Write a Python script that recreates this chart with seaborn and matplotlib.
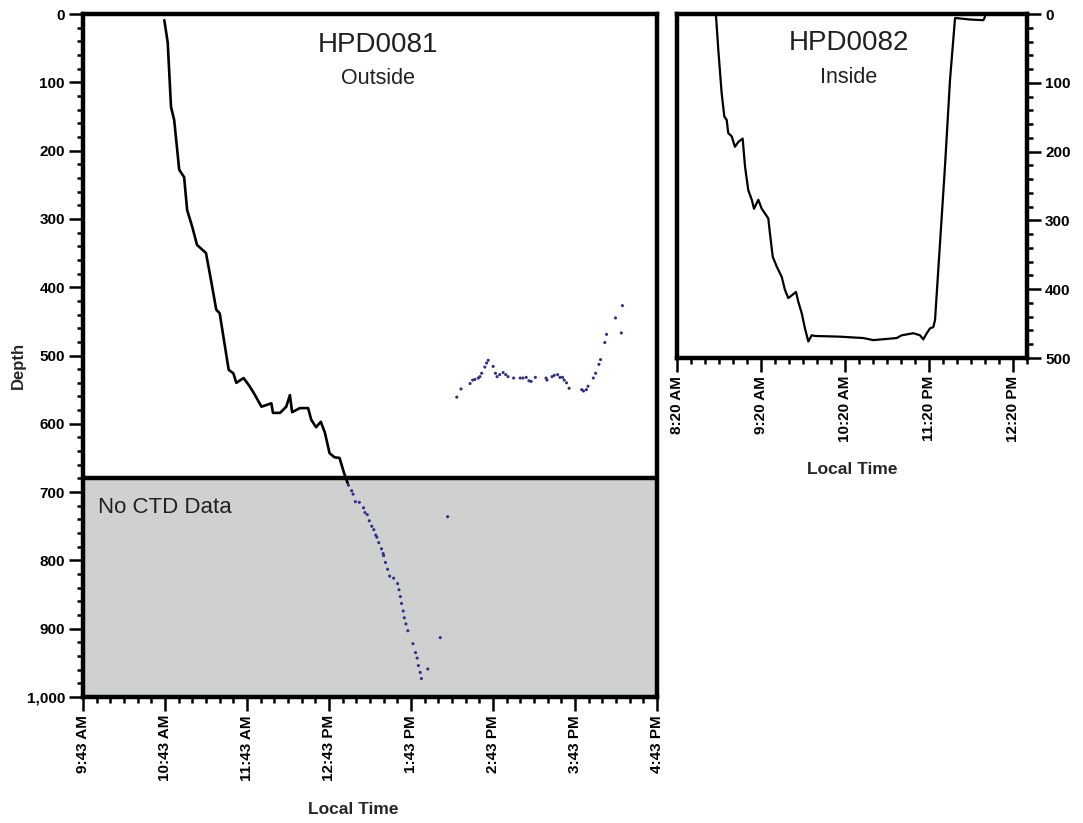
import numpy as np
import pandas as pd
import matplotlib
matplotlib.use("Agg")
import matplotlib.pyplot as plt
import matplotlib.dates as mdates
import matplotlib.ticker as mticker
import seaborn as sns

# ---------------- data ----------------
# HPD0081 (Outside) vehicle depth trace
dive81_time = ["10:42:30", "10:45:00", "10:47:24", "10:49:42", "10:53:24", "10:57:00", "10:59:12",
               "11:03:00", "11:06:24", "11:13:00", "11:16:36", "11:19:00", "11:20:30", "11:23:00",
               "11:29:36", "11:33:00", "11:35:12", "11:40:30", "11:44:12", "11:48:00", "11:53:36",
               "12:00:48", "12:02:00", "12:07:12", "12:11:42", "12:14:24", "12:16:00", "12:21:42",
               "12:27:42", "12:30:00", "12:33:30", "12:37:00", "12:40:00", "12:43:24", "12:47:00",
               "12:50:42", "12:54:00", "12:56:42"]
dive81_depth = [9, 42, 136, 155, 228, 239, 287,
                312, 338, 350, 389, 416, 433, 438,
                521, 526, 540, 533, 543, 555, 575,
                570, 584, 584, 575, 558, 583, 577,
                577, 594, 605, 597, 613, 643, 649,
                650, 672, 687]

# HPD0081 CTD samples (blue dots)
ctd81_time = ["12:57:12", "12:59:36", "13:00:36", "13:02:18", "13:05:12", "13:08:18", "13:09:18",
              "13:11:00", "13:12:30", "13:14:18", "13:15:48", "13:17:12", "13:18:00", "13:19:24",
              "13:21:24", "13:22:36", "13:23:00", "13:24:18", "13:25:54", "13:27:24", "13:30:18",
              "13:33:12", "13:34:12", "13:35:12", "13:36:06", "13:37:18", "13:38:06", "13:39:18",
              "13:40:42", "13:44:24", "13:46:18", "13:47:30", "13:48:24", "13:49:42", "13:50:36",
              "13:55:18", "14:04:24", "14:09:48",
              "14:16:30", "14:19:36", "14:26:12", "14:28:06", "14:29:48", "14:32:18", "14:33:24",
              "14:34:42", "14:37:00", "14:38:18", "14:39:30", "14:43:06", "14:44:48", "14:46:00",
              "14:47:54", "14:50:24", "14:52:18", "14:54:00", "14:58:06", "15:02:54", "15:04:54",
              "15:07:18", "15:09:18", "15:10:54", "15:14:00", "15:21:48", "15:22:30", "15:26:12",
              "15:27:48", "15:30:18", "15:32:00", "15:33:54", "15:35:06", "15:36:48", "15:38:42",
              "15:47:54", "15:49:12", "15:51:18", "15:52:30", "15:56:24", "15:58:06", "16:00:30",
              "16:01:42", "16:04:48", "16:06:06", "16:12:36", "16:16:54", "16:17:42"]
ctd81_depth = [690, 698, 703, 714, 715, 723, 730,
               733, 742, 750, 755, 763, 766, 774,
               783, 790, 793, 803, 813, 823, 826,
               834, 843, 853, 863, 874, 884, 893,
               903, 922, 935, 943, 954, 964, 973,
               959, 913, 736,
               561, 549, 541, 536, 535, 533, 531,
               526, 517, 511, 507, 516, 526, 531,
               528, 525, 528, 531, 533, 533, 533,
               532, 537, 538, 532, 533, 536, 531,
               529, 528, 532, 532, 536, 540, 548,
               550, 552, 550, 545, 533, 526, 513,
               506, 481, 469, 445, 467, 427]

# HPD0082 (Inside) vehicle depth trace
dive82_time = ["08:47:30", "08:47:54", "08:49:30", "08:51:54", "08:53:48", "08:55:30", "08:56:36",
               "08:59:06", "09:01:24", "09:03:48", "09:06:54", "09:08:36", "09:10:54", "09:13:24",
               "09:15:00", "09:18:06", "09:20:30", "09:25:12", "09:26:24", "09:28:24", "09:31:12",
               "09:34:48", "09:37:06", "09:39:30", "09:45:00", "09:46:36", "09:49:06", "09:51:24",
               "09:53:48", "09:56:12", "09:58:36", "10:16:24", "10:33:06", "10:40:12", "10:56:54",
               "11:00:30", "11:08:48", "11:13:36", "11:15:54", "11:18:24", "11:20:42", "11:23:06",
               "11:24:18", "11:31:24", "11:35:00", "11:38:36", "11:39:48", "11:49:18", "11:58:48",
               "12:00:00"]
dive82_depth = [0, 4, 52, 115, 149, 154, 173,
                178, 193, 186, 181, 222, 256, 270,
                283, 270, 283, 297, 319, 353, 367,
                382, 401, 413, 404, 418, 435, 457,
                476, 467, 468, 469, 471, 474, 471,
                467, 464, 467, 473, 464, 457, 455,
                445, 222, 96, 6, 6, 8, 9,
                4]

left_tick_times = ["09:43", "10:43", "11:43", "12:43", "13:43", "14:43", "15:43", "16:43"]
left_tick_labels = ["9:43 AM", "10:43 AM", "11:43 AM", "12:43 PM", "1:43 PM", "2:43 PM", "3:43 PM", "4:43 PM"]
right_tick_times = ["08:20", "09:20", "10:20", "11:20", "12:20"]
right_tick_labels = ["8:20 AM", "9:20 AM", "10:20 AM", "11:20 PM", "12:20 PM"]
left_depth_ticks = [0, 100, 200, 300, 400, 500, 600, 700, 800, 900, 1000]
right_depth_ticks = [0, 100, 200, 300, 400, 500]
no_ctd_depth = 680

# ---------------- helpers ----------------
BASE = "2000-01-01 "


def to_dt(ts):
    return pd.to_datetime([BASE + t for t in ts])


df81 = pd.DataFrame({"time": to_dt(dive81_time), "depth": dive81_depth})
ctd81 = pd.DataFrame({"time": to_dt(ctd81_time), "depth": ctd81_depth})
df82 = pd.DataFrame({"time": to_dt(dive82_time), "depth": dive82_depth})

sns.set_style("ticks")
plt.rcParams['font.family'] = ['Liberation Sans', 'DejaVu Sans']

W, H = 1083, 823
fig = plt.figure(figsize=(W / 100, H / 100), dpi=100)


def px_axes(l, t, r, b):
    return fig.add_axes([l / W, 1 - b / H, (r - l) / W, (b - t) / H])


ax1 = px_axes(83, 14, 657, 697)
ax2 = px_axes(677, 14, 1027, 358)

GRAY = "#cfd1d1"
NAVY = "#2e2e8e"
TXT = "#231f20"

# ---- left panel ----
ax1.axhspan(no_ctd_depth, 1000, color=GRAY, zorder=0, lw=0)
ax1.axhline(no_ctd_depth, color="black", lw=3.2, zorder=1)
sns.lineplot(data=df81, x="time", y="depth", sort=False, estimator=None,
             color="black", lw=1.9, ax=ax1, zorder=3)
sns.scatterplot(data=ctd81, x="time", y="depth", color=NAVY, s=5,
                edgecolor="none", ax=ax1, zorder=4)
ax1.set_xlim(mdates.date2num(pd.Timestamp(BASE + "09:43")),
             mdates.date2num(pd.Timestamp(BASE + "16:43")))
ax1.set_ylim(1000, 0)

ax1.set_xticks(mdates.date2num(to_dt(left_tick_times)))
ax1.set_xticklabels(left_tick_labels, rotation=90, fontweight="bold")
ax1.xaxis.set_minor_locator(mdates.MinuteLocator(byminute=[3, 13, 23, 33, 43, 53]))
ax1.set_yticks(left_depth_ticks)
ax1.set_yticklabels([f"{v:,}" for v in left_depth_ticks], fontweight="bold")
ax1.yaxis.set_minor_locator(mticker.MultipleLocator(20))

ax1.text(0.514, 0.955, "HPD0081", transform=ax1.transAxes, ha="center", va="center",
         fontsize=20, color=TXT)
ax1.text(0.514, 0.905, "Outside", transform=ax1.transAxes, ha="center", va="center",
         fontsize=15.5, color=TXT)
ax1.text(0.026, 0.277, "No CTD Data", transform=ax1.transAxes, ha="left", va="center",
         fontsize=16, color=TXT)

# ---- right panel ----
sns.lineplot(data=df82, x="time", y="depth", sort=False, estimator=None,
             color="black", lw=1.6, ax=ax2, zorder=3)
ax2.set_xlim(mdates.date2num(pd.Timestamp(BASE + "08:20")),
             mdates.date2num(pd.Timestamp(BASE + "12:30")))
ax2.set_ylim(500, 0)
ax2.yaxis.tick_right()
ax2.set_xticks(mdates.date2num(to_dt(right_tick_times)))
ax2.set_xticklabels(right_tick_labels, rotation=90, fontweight="bold")
ax2.xaxis.set_minor_locator(mdates.MinuteLocator(byminute=[0, 10, 20, 30, 40, 50]))
ax2.set_yticks(right_depth_ticks)
ax2.set_yticklabels([f"{v:,}" for v in right_depth_ticks], fontweight="bold")
ax2.yaxis.set_minor_locator(mticker.MultipleLocator(20))

ax2.text(0.491, 0.915, "HPD0082", transform=ax2.transAxes, ha="center", va="center",
         fontsize=20, color=TXT)
ax2.text(0.491, 0.814, "Inside", transform=ax2.transAxes, ha="center", va="center",
         fontsize=15.5, color=TXT)

for ax in (ax1, ax2):
    ax.set_xlabel("")
    ax.set_ylabel("")
    for s in ax.spines.values():
        s.set_visible(True)
        s.set_linewidth(3.2)
        s.set_color("black")
        s.set_zorder(5)
    ax.tick_params(axis="both", which="major", length=10, width=1.8, direction="out",
                   labelsize=11, pad=3, color="black", labelcolor="black")
    ax.tick_params(axis="both", which="minor", length=4, width=1.8, direction="out",
                   color="black")
    ax.grid(False)

fig.text(18 / W, 1 - 365 / H, "Depth", rotation=90, ha="center", va="center",
         fontsize=12, fontweight="bold")
fig.text(353 / W, 1 - 810 / H, "Local Time", ha="center", va="center",
         fontsize=12.5, fontweight="bold")
fig.text(852 / W, 1 - 470 / H, "Local Time", ha="center", va="center",
         fontsize=12.5, fontweight="bold")

fig.savefig("out.png", dpi=100)
